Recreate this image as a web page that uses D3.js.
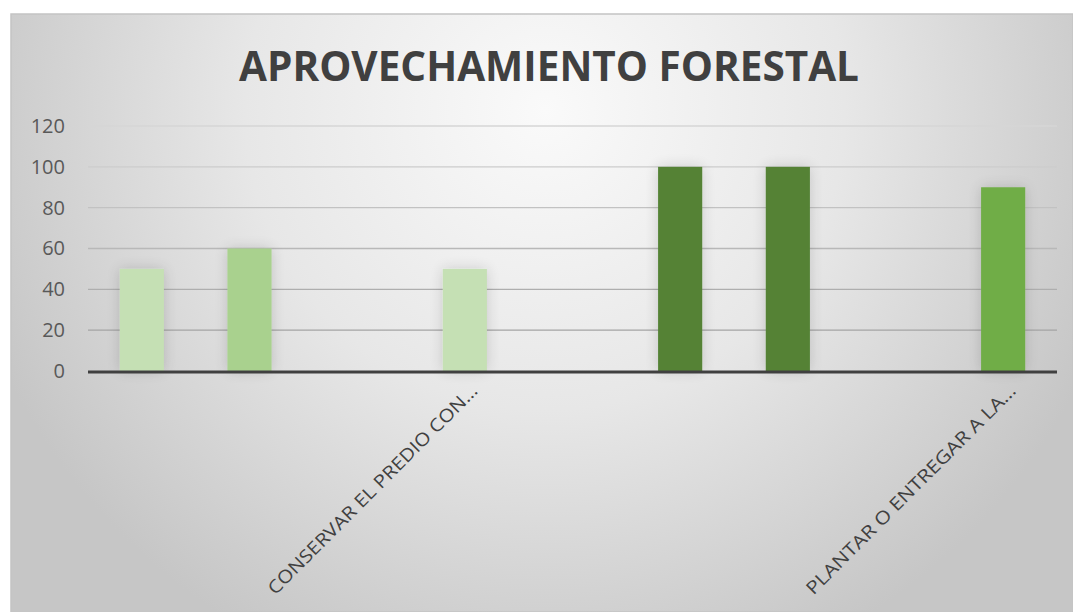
<!DOCTYPE html>
<html>
<head>
<meta charset="utf-8">
<script src="https://d3js.org/d3.v7.min.js"></script>
<style>
  body { margin: 0; background: #fff; }
  svg { display: block; }
</style>
</head>
<body>
<script>
// data (9 category slots, only two labels are printed)
var categories = ["", "", "", "CONSERVAR EL PREDIO CON…", "", "", "", "", "PLANTAR O ENTREGAR A LA…"];
var values = [50, 60, 0, 50, 0, 100, 100, 0, 90];
var barColors = ["#c5e0b4", "#a9d18e", "#c5e0b4", "#c5e0b4", "#a9d18e", "#548235", "#548235", "#548235", "#70ad47"];
var yTicks = [0, 20, 40, 60, 80, 100, 120];
var title = "APROVECHAMIENTO FORESTAL";

var width = 1073, height = 612;
var plotLeft = 88, plotRight = 1057, plotTop = 126, plotBottom = 371;

var svg = d3.select("body").append("svg")
  .attr("width", width)
  .attr("height", height);

var defs = svg.append("defs");
var bg = defs.append("radialGradient")
  .attr("id", "bg")
  .attr("gradientUnits", "userSpaceOnUse")
  .attr("cx", 545).attr("cy", 110).attr("r", 600);
bg.append("stop").attr("offset", "0%").attr("stop-color", "#fafafa");
bg.append("stop").attr("offset", "50%").attr("stop-color", "#e7e7e7");
bg.append("stop").attr("offset", "100%").attr("stop-color", "#c6c6c6");

var glow = defs.append("filter").attr("id", "glow")
  .attr("x", "-60%").attr("y", "-20%").attr("width", "220%").attr("height", "140%");
glow.append("feGaussianBlur").attr("in", "SourceAlpha").attr("stdDeviation", 7).attr("result", "b");
glow.append("feComponentTransfer").attr("in", "b").attr("result", "s")
  .append("feFuncA").attr("type", "linear").attr("slope", 0.16);
var fm = glow.append("feMerge");
fm.append("feMergeNode").attr("in", "s");
fm.append("feMergeNode").attr("in", "SourceGraphic");

// chart area
svg.append("rect")
  .attr("x", 11).attr("y", 14)
  .attr("width", width - 11).attr("height", height - 14)
  .attr("fill", "url(#bg)")
  .attr("stroke", "#c4c4c4").attr("stroke-width", 1.5);

svg.append("text")
  .attr("x", 549).attr("y", 81)
  .attr("text-anchor", "middle")
  .attr("font-family", "Open Sans, sans-serif")
  .attr("font-weight", "bold")
  .attr("font-size", 40.5)
  .attr("fill", "#404040")
  .text(title);

var x = d3.scaleBand()
  .domain(d3.range(categories.length))
  .range([plotLeft, plotRight])
  .paddingInner(0.59)
  .paddingOuter(0.295);

var y = d3.scaleLinear()
  .domain([0, 120])
  .range([plotBottom, plotTop]);

var gridColor = d3.scaleLinear().domain([0, 120]).range(["#9a9a9a", "#d6d6d6"]);

// gridlines
svg.append("g").selectAll("line")
  .data(yTicks.filter(function(d){ return d > 0; }))
  .enter().append("line")
  .attr("x1", plotLeft).attr("x2", plotRight)
  .attr("y1", function(d){ return y(d); })
  .attr("y2", function(d){ return y(d); })
  .attr("stroke", function(d){ return gridColor(d); })
  .attr("stroke-width", 1.3);

// y axis labels
var yAxis = d3.axisLeft(y).tickValues(yTicks).tickSize(0).tickPadding(23);
var ya = svg.append("g").attr("transform", "translate(" + plotLeft + ",0)").call(yAxis);
ya.select(".domain").remove();
ya.selectAll("text")
  .attr("font-family", "Open Sans, sans-serif")
  .attr("font-size", 20)
  .attr("fill", "#595959");

// bars
svg.append("g").selectAll("rect")
  .data(values)
  .enter().append("rect")
  .attr("x", function(d, i){ return x(i); })
  .attr("y", function(d){ return y(d); })
  .attr("width", x.bandwidth())
  .attr("height", function(d){ return y(0) - y(d); })
  .attr("fill", function(d, i){ return barColors[i]; })
  .attr("filter", function(d){ return d > 0 ? "url(#glow)" : null; });

// baseline
svg.append("line")
  .attr("x1", plotLeft).attr("x2", plotRight)
  .attr("y1", y(0) + 1).attr("y2", y(0) + 1)
  .attr("stroke", "#404040").attr("stroke-width", 3);

// category labels
svg.append("g").selectAll("text")
  .data(categories)
  .enter().append("text")
  .attr("transform", function(d, i){
    return "translate(" + (x(i) + x.bandwidth() / 2 + 14) + "," + 392 + ") rotate(-45)";
  })
  .attr("text-anchor", "end")
  .attr("font-family", "Open Sans, sans-serif")
  .attr("font-size", 18)
  .attr("textLength", function(d){ return d ? 288 : null; })
  .attr("lengthAdjust", "spacingAndGlyphs")
  .attr("fill", "#404040")
  .text(function(d){ return d; });
</script>
</body>
</html>
